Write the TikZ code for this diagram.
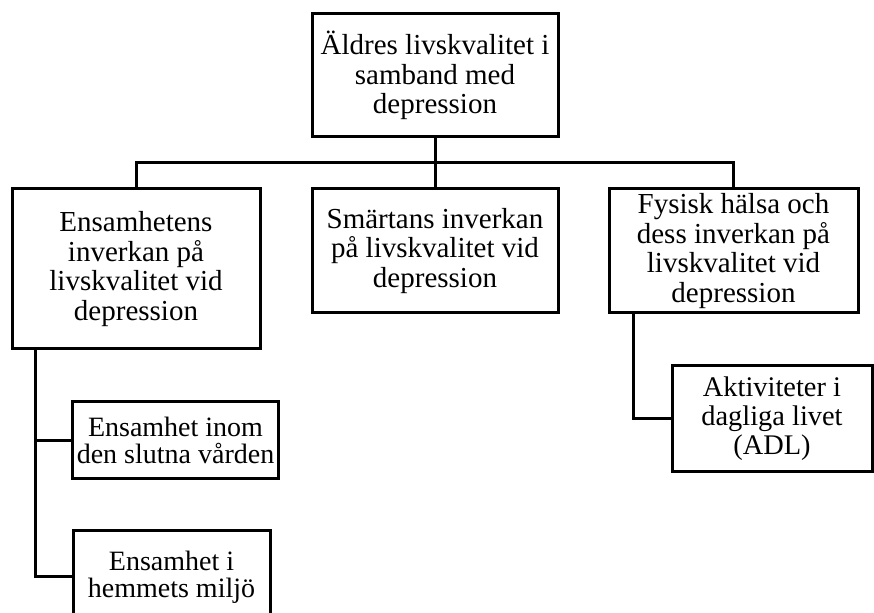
\documentclass[tikz,border=0pt]{standalone}
\usepackage{fontspec}
\setmainfont{Liberation Serif}
\usepackage{tikz}
\usetikzlibrary{positioning}

\begin{document}
\begin{tikzpicture}[x=0.5pt,y=-0.5pt]
          \useasboundingbox (0,0) rectangle (874,613);
          \begin{scope}[every node/.style={rectangle,draw,line width=1.5pt,align=center,inner sep=2pt,font=\fontsize{14.5}{14.8}\selectfont}]
            \node[minimum width=123pt,minimum height=61.5pt] (top) at (435, 75.5) {Äldres livskvalitet i\\samband med\\depression};
            \node[minimum width=124pt,minimum height=80pt] (ens) at (136, 269) {Ensamhetens\\inverkan på\\livskvalitet vid\\depression};
            \node[minimum width=123pt,minimum height=62pt] (smarta) at (435, 251) {Smärtans inverkan\\på livskvalitet vid\\depression};
            \node[minimum width=124.5pt,minimum height=62pt] (fys) at (733.5, 251) {Fysisk hälsa och\\dess inverkan på\\livskvalitet vid\\depression};
            \node[minimum width=102.5pt,minimum height=38.5pt,font=\fontsize{14}{13.7}\selectfont] (ens1) at (175.5, 440.5) {Ensamhet inom\\den slutna vården};
            \node[minimum width=98.5pt,minimum height=46pt,font=\fontsize{14}{13.7}\selectfont] (ens2) at (171.5, 577) {Ensamhet i\\hemmets miljö};
            \node[minimum width=100pt,minimum height=53pt,font=\fontsize{14.2}{14.5}\selectfont] (adl) at (772, 419) {Aktiviteter i\\dagliga livet\\(ADL)};
          \end{scope}
          \begin{scope}[every path/.style={line width=1.5pt}]
            \coordinate (bus) at (435, 163);
            \draw (top) -- (smarta);
            \draw (ens.north) |- (bus) -| (fys.north);
            \draw ([xshift=12.5pt]ens.south west) |- (ens1.west);
            \draw ([xshift=12.5pt]ens.south west) |- (ens2.west);
            \draw ([xshift=13pt]fys.south west) |- (adl.west);
          \end{scope}
        \end{tikzpicture}
\end{document}
